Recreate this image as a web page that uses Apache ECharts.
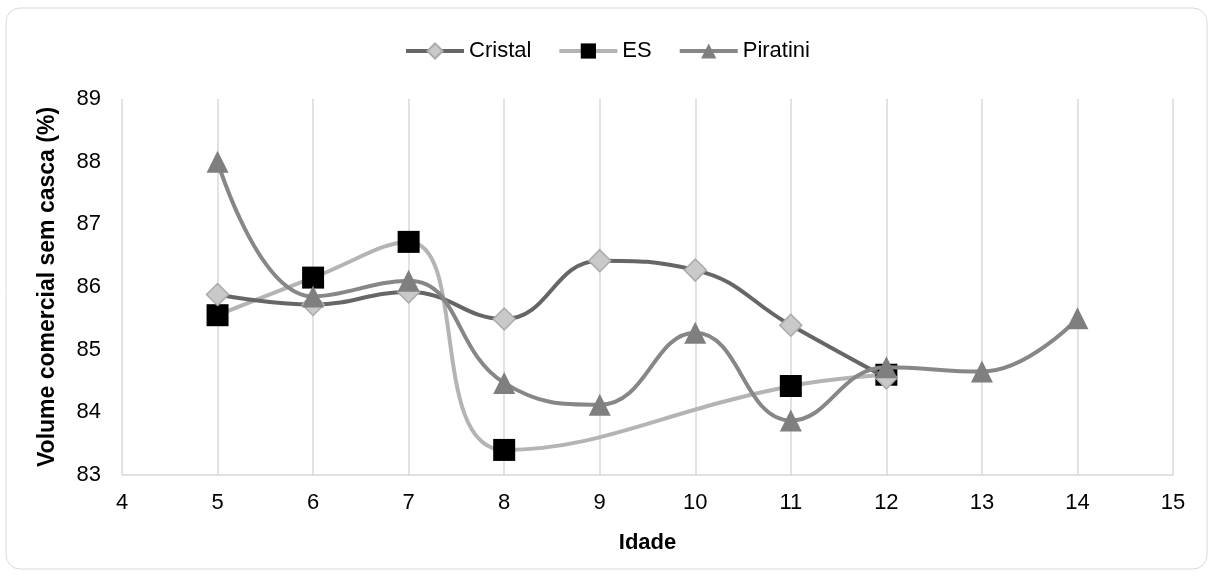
<!DOCTYPE html>
<html><head><meta charset="utf-8">
<script src="https://cdn.jsdelivr.net/npm/echarts@6/dist/echarts.min.js"></script>
<style>html,body{margin:0;padding:0;background:#fff}#c{width:1214px;height:577px}</style>
</head><body><div id="c"></div>
<script>
const cristal = [[5,85.88],[6,85.72],[7,85.92],[8,85.49],[9,86.42],[10,86.27],[11,85.39],[12,84.55]];
const es = [[5,85.55],[6,86.15],[7,86.72],[8,83.4],[11,84.42],[12,84.6]];
const piratini = [[5,88.0],[6,85.85],[7,86.1],[8,84.47],[9,84.12],[10,85.27],[11,83.87],[12,84.72],[13,84.65],[14,85.5]];
const xMin = 4, xMax = 15, yMin = 83, yMax = 89;

const chart = echarts.init(document.getElementById('c'));
const font = 'Liberation Sans, Arial, sans-serif';
chart.setOption({
  animation: false,
  graphic: [{type:'rect', shape:{x:6,y:8,width:1201,height:561,r:14}, style:{fill:'none',stroke:'#d9d9d9',lineWidth:1}}],
  legend: {
    top: 35, left: 'center', itemWidth: 58, itemHeight: 19, itemGap: 26,
    textStyle: {fontFamily: font, fontSize: 22, color: '#000'},
    data: [
      {name: 'Cristal', lineStyle: {width: 4}},
      {name: 'ES', lineStyle: {width: 4}},
      {name: 'Piratini', lineStyle: {width: 4}}
    ]
  },
  grid: {left: 122, right: 41, top: 99, bottom: 102},
  xAxis: {
    type: 'value', min: xMin, max: xMax, interval: 1, name: 'Idade', nameLocation: 'middle', nameGap: 57,
    nameTextStyle: {fontFamily: font, fontSize: 22, fontWeight: 'bold', color: '#000'},
    axisLine: {show: true, lineStyle: {color: '#d9d9d9', width: 1.5}},
    axisTick: {show: false},
    axisLabel: {fontFamily: font, fontSize: 22, color: '#000', margin: 17},
    splitLine: {show: true, lineStyle: {color: '#d9d9d9', width: 1.5}}
  },
  yAxis: {
    type: 'value', min: yMin, max: yMax, interval: 1, name: 'Volume comercial sem casca (%)', nameLocation: 'middle', nameGap: 63,
    nameTextStyle: {fontFamily: font, fontSize: 23, fontWeight: 'bold', color: '#000'},
    axisLine: {show: false}, axisTick: {show: false},
    axisLabel: {fontFamily: font, fontSize: 22, color: '#000', margin: 21},
    splitLine: {show: false}
  },
  series: [
    {name: 'Cristal', type: 'line', data: cristal, smooth: 0.45, symbol: 'diamond', symbolSize: 22,
     lineStyle: {color: '#666666', width: 4}, itemStyle: {color: '#c9c9c9', borderColor: '#aaaaaa', borderWidth: 1.5}, z: 3},
    {name: 'ES', type: 'line', data: es, smooth: 0.45, symbol: 'rect', symbolSize: 22,
     lineStyle: {color: '#b4b4b4', width: 4}, itemStyle: {color: '#000000'}, z: 2},
    {name: 'Piratini', type: 'line', data: piratini, smooth: 0.45, symbol: 'triangle', symbolSize: 22,
     lineStyle: {color: '#878787', width: 4}, itemStyle: {color: '#7f7f7f'}, z: 4}
  ]
});
</script></body></html>
